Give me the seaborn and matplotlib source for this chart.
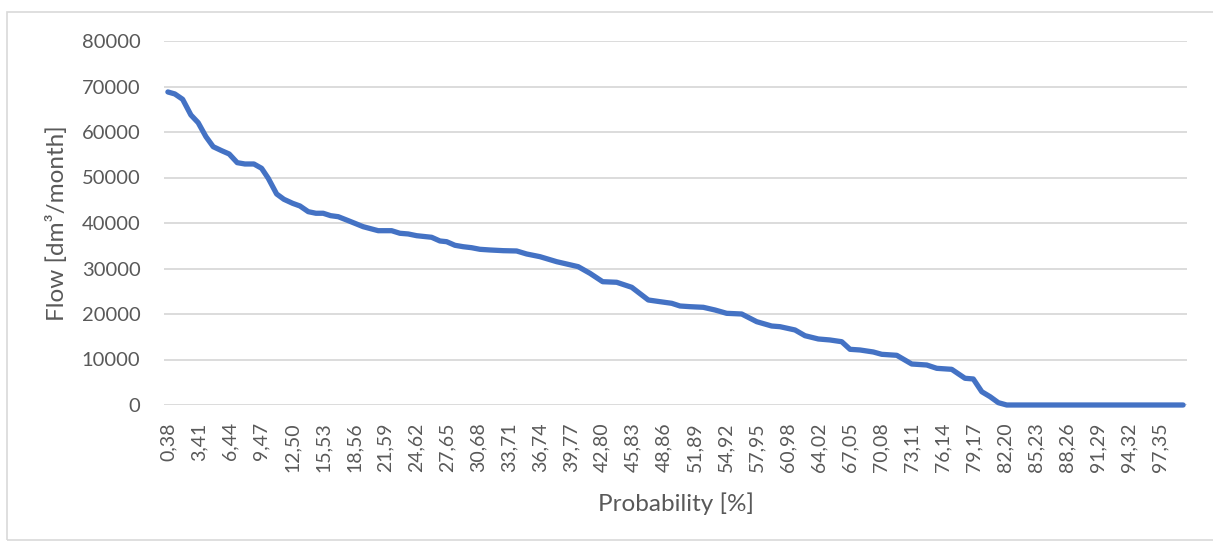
import matplotlib
matplotlib.use("Agg")
import matplotlib.pyplot as plt
from matplotlib.patches import Rectangle
import seaborn as sns
import pandas as pd

# Flow duration curve: exceedance probability [%] vs monthly flow [dm3/month]
probability = [
    0.38, 1.06, 1.82, 2.63, 3.34, 4.10, 4.81, 5.63, 6.37, 7.16,
    7.91, 8.79, 9.54, 10.19, 11.01, 11.72, 12.57, 13.29, 14.10, 14.85,
    15.56, 16.29, 17.03, 17.85, 18.66, 19.47, 20.30, 20.94, 22.25, 23.06,
    23.87, 24.70, 26.16, 26.97, 27.63, 28.44, 29.25, 30.07, 30.88, 31.86,
    33.16, 34.47, 35.45, 36.75, 38.38, 39.36, 40.49, 41.64, 42.88, 44.25,
    45.72, 47.34, 48.48, 49.63, 50.44, 51.42, 52.72, 53.86, 55.00, 56.47,
    57.94, 59.40, 60.22, 61.68, 62.66, 63.96, 65.10, 66.25, 67.06, 68.04,
    69.34, 70.16, 71.63, 73.09, 74.56, 75.54, 77.00, 78.30, 79.11, 79.94,
    80.75, 81.56, 82.38, 99.62,
]
flow = [
    68800, 68360, 67190, 63740, 62050, 58970, 56770, 55900, 55170, 53260,
    52970, 52970, 52020, 49830, 46380, 45210, 44330, 43740, 42490, 42140,
    42140, 41610, 41390, 40660, 39930, 39190, 38690, 38310, 38310, 37740,
    37590, 37210, 36860, 36050, 35890, 35100, 34790, 34570, 34220, 34070,
    33920, 33850, 33190, 32600, 31500, 30990, 30400, 28940, 27100, 26970,
    25870, 23080, 22710, 22350, 21760, 21610, 21470, 20880, 20150, 20000,
    18310, 17360, 17210, 16490, 15230, 14510, 14290, 13910, 12240, 12090,
    11650, 11140, 10920, 9010, 8790, 8060, 7840, 5870, 5720, 2920,
    1830, 510, 0, 0,
]

tick_positions = [
    0.38, 3.41, 6.44, 9.47, 12.50, 15.53, 18.56, 21.59, 24.62, 27.65, 30.68,
    33.71, 36.74, 39.77, 42.80, 45.83, 48.86, 51.89, 54.92, 57.95, 60.98,
    64.02, 67.05, 70.08, 73.11, 76.14, 79.17, 82.20, 85.23, 88.26, 91.29,
    94.32, 97.35,
]
tick_labels = [
    "0,38", "3,41", "6,44", "9,47", "12,50", "15,53", "18,56", "21,59",
    "24,62", "27,65", "30,68", "33,71", "36,74", "39,77", "42,80", "45,83",
    "48,86", "51,89", "54,92", "57,95", "60,98", "64,02", "67,05", "70,08",
    "73,11", "76,14", "79,17", "82,20", "85,23", "88,26", "91,29", "94,32",
    "97,35",
]
y_ticks = [0, 10000, 20000, 30000, 40000, 50000, 60000, 70000, 80000]

sns.set_theme(style="white")
plt.rcParams["font.family"] = ["Lato", "DejaVu Sans"]

W, H = 1213, 543
fig = plt.figure(figsize=(W / 100, H / 100), dpi=100)
fig.patch.set_facecolor("white")

# light frame around the chart area
fig.patches.append(Rectangle((7 / W, 3 / H), 1.2, (H - 15) / H,
                             transform=fig.transFigure, fill=False,
                             edgecolor="#d9d9d9", linewidth=1.2))

ax = fig.add_axes([164 / W, (H - 405) / H, (1187 - 164) / W, (405 - 41) / H])

df = pd.DataFrame({"Probability": probability, "Flow": flow})
sns.lineplot(data=df, x="Probability", y="Flow", ax=ax, sort=False,
             estimator=None, color="#4472C4", linewidth=3.8,
             solid_capstyle="round", solid_joinstyle="round", clip_on=False,
             zorder=3)

ax.set_xlim(0, 100)
ax.set_ylim(0, 80000)
ax.set_yticks(y_ticks)
ax.set_yticklabels([str(v) for v in y_ticks])
ax.set_xticks(tick_positions)
ax.set_xticklabels(tick_labels, rotation=90)

ax.grid(axis="y", color="#d9d9d9", linewidth=1.3)
ax.grid(axis="x", visible=False)
ax.set_axisbelow(True)
for s in ax.spines.values():
    s.set_visible(False)

text_color = "#595959"
ax.tick_params(axis="y", length=0, pad=17, labelsize=14.5, labelcolor=text_color)
ax.tick_params(axis="x", length=0, pad=12.5, labelsize=14, labelcolor=text_color)

ax.set_xlabel("")
ax.set_ylabel("")
fig.text((164 + 1187) / 2 / W, 1 - 504 / H, "Probability [%]", ha="center",
         va="center", fontsize=17.5, color=text_color)
fig.text(57 / W, 1 - 223 / H, "Flow [dm³/month]", ha="center", va="center",
         rotation=90, fontsize=17.5, color=text_color)

fig.savefig("out.png", dpi=100, facecolor="white")
